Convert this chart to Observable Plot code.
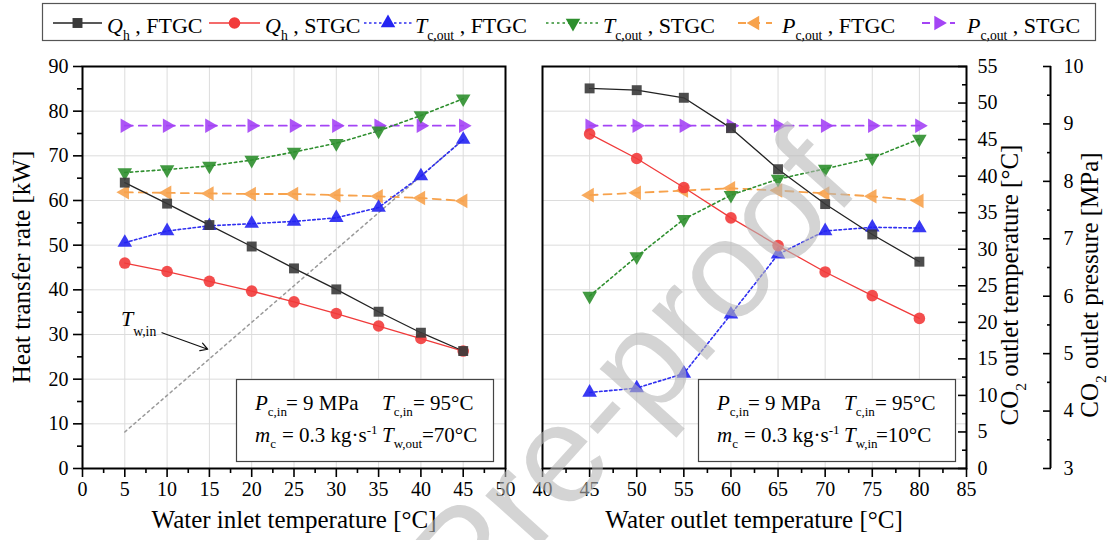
<!DOCTYPE html>
<html><head><meta charset="utf-8">
<script src="https://cdn.jsdelivr.net/npm/d3@7"></script>
<script src="https://cdn.jsdelivr.net/npm/@observablehq/plot@0.6"></script>
<style>
html,body{margin:0;padding:0;background:#fff;}
#chart{position:relative;width:1109px;height:540px;overflow:hidden;font-family:'Liberation Serif','DejaVu Serif',serif;}
#chart svg{position:absolute;top:0;}
#chart svg text{font-family:'Liberation Serif','DejaVu Serif',serif;}
#chart svg text.wm{font-family:'Liberation Sans','DejaVu Sans',sans-serif;}
</style></head><body><div id="chart"></div>
<script>
// ---------------- data ----------------
// Left panel: water inlet temperature varied
const xInlet = [5, 10, 15, 20, 25, 30, 35, 40, 45];
const qhFtgcInlet = [64.0, 59.3, 54.5, 49.7, 44.8, 40.1, 35.1, 30.4, 26.3];   // kW
const qhStgcInlet = [46.0, 44.1, 41.9, 39.7, 37.3, 34.7, 31.9, 29.1, 26.3];   // kW
const tcFtgcInlet = [30.9, 32.5, 33.2, 33.5, 33.8, 34.3, 35.7, 40.0, 45.0];   // °C
const tcStgcInlet = [40.5, 40.9, 41.4, 42.2, 43.3, 44.5, 46.2, 48.3, 50.6];   // °C
const pcFtgcInlet = [7.81, 7.80, 7.79, 7.78, 7.78, 7.76, 7.74, 7.71, 7.66];   // MPa
const pcStgcInlet = [8.97, 8.97, 8.97, 8.97, 8.97, 8.97, 8.97, 8.97, 8.97];   // MPa
const twInlet = [5, 10, 15, 20, 25, 30, 35, 40, 45];                          // °C (T_w,in)

// Right panel: water outlet temperature varied
const xOutlet = [45, 50, 55, 60, 65, 70, 75, 80];
const qhFtgcOutlet = [85.1, 84.7, 83.0, 76.2, 67.0, 59.2, 52.4, 46.3];
const qhStgcOutlet = [74.9, 69.4, 62.9, 56.1, 49.9, 44.0, 38.7, 33.6];
const tcFtgcOutlet = [10.4, 11.0, 13.0, 21.1, 29.3, 32.5, 33.0, 32.9];
const tcStgcOutlet = [23.6, 29.0, 34.1, 37.4, 39.6, 41.0, 42.5, 45.1];
const pcFtgcOutlet = [7.76, 7.80, 7.84, 7.88, 7.84, 7.79, 7.74, 7.66];
const pcStgcOutlet = [8.97, 8.97, 8.97, 8.97, 8.97, 8.97, 8.97, 8.97];

// ticks
const xTicksInlet = [0, 5, 10, 15, 20, 25, 30, 35, 40, 45, 50];
const xMinorInlet = [2.5, 7.5, 12.5, 17.5, 22.5, 27.5, 32.5, 37.5, 42.5, 47.5];
const xTicksOutlet = [40, 45, 50, 55, 60, 65, 70, 75, 80, 85];
const xMinorOutlet = [42.5, 47.5, 52.5, 57.5, 62.5, 67.5, 72.5, 77.5, 82.5];
const qTicks = [0, 10, 20, 30, 40, 50, 60, 70, 80, 90];
const qMinor = [5, 15, 25, 35, 45, 55, 65, 75, 85];
const tTicks = [0, 5, 10, 15, 20, 25, 30, 35, 40, 45, 50, 55];
const tMinor = [2.5, 7.5, 12.5, 17.5, 22.5, 27.5, 32.5, 37.5, 42.5, 47.5, 52.5];
const pTicks = [3, 4, 5, 6, 7, 8, 9, 10];
const pMinor = [3.5, 4.5, 5.5, 6.5, 7.5, 8.5, 9.5];
const gridXInlet = [5, 10, 15, 20, 25, 30, 35, 40, 45];
const gridXOutlet = [45, 50, 55, 60, 65, 70, 75, 80];
const gridYq = [10, 20, 30, 40, 50, 60, 70, 80];

// annotation arrow (x in °C, y in kW)
const twArrow = [{x1: 9.4, y1: 30.4, x2: 14.8, y2: 26.7}];

// ---------------- scales shared by all y axes ----------------
const qDomain = [0, 90], tDomain = [0, 55], pDomain = [3, 10];
const fromQ = v => v;
const fromT = t => (t - tDomain[0]) / (tDomain[1] - tDomain[0]) * qDomain[1];
const fromP = p => (p - pDomain[0]) / (pDomain[1] - pDomain[0]) * qDomain[1];
const toT = v => v / qDomain[1] * (tDomain[1] - tDomain[0]) + tDomain[0];
const toP = v => v / qDomain[1] * (pDomain[1] - pDomain[0]) + pDomain[0];

const styles = {
  qF: {stroke: "#222222", fill: "#3a3a3a", symbol: "square", rotate: 0, r: 5.6, dash: null, sw: 1.3},
  qS: {stroke: "#f03a3a", fill: "#f23b3b", symbol: "circle", rotate: 0, r: 5.8, dash: null, sw: 1.3},
  tF: {stroke: "#2f2ff0", fill: "#2424f2", symbol: "triangle", rotate: 0, r: 5.4, dash: "2.5,2.5", sw: 1.6},
  tS: {stroke: "#2f8f2f", fill: "#2e8f2e", symbol: "triangle", rotate: 180, r: 5.4, dash: "2.5,3", sw: 1.6},
  pF: {stroke: "#f7a24c", fill: "#f7a24c", symbol: "triangle", rotate: -90, r: 5.4, dash: "8,6", sw: 1.8},
  pS: {stroke: "#a444f5", fill: "#a444f5", symbol: "triangle", rotate: 90, r: 5.4, dash: "8,6", sw: 1.8}
};

const inletSeries = [
  {key: "pS", values: pcStgcInlet, conv: fromP},
  {key: "pF", values: pcFtgcInlet, conv: fromP},
  {key: "tS", values: tcStgcInlet, conv: fromT},
  {key: "tF", values: tcFtgcInlet, conv: fromT},
  {key: "qS", values: qhStgcInlet, conv: fromQ},
  {key: "qF", values: qhFtgcInlet, conv: fromQ}
];
const outletSeries = [
  {key: "pS", values: pcStgcOutlet, conv: fromP},
  {key: "pF", values: pcFtgcOutlet, conv: fromP},
  {key: "tS", values: tcStgcOutlet, conv: fromT},
  {key: "tF", values: tcFtgcOutlet, conv: fromT},
  {key: "qS", values: qhStgcOutlet, conv: fromQ},
  {key: "qF", values: qhFtgcOutlet, conv: fromQ}
];

function seriesMarks(xs, list) {
  const lines = [], dots = [];
  for (const s of list) {
    const st = styles[s.key];
    const rows = xs.map((x, i) => ({x, y: s.conv(s.values[i])}));
    lines.push(Plot.line(rows, {x: "x", y: "y", stroke: st.stroke, strokeWidth: st.sw, strokeDasharray: st.dash}));
    dots.push(Plot.dot(rows, {x: "x", y: "y", symbol: st.symbol, rotate: st.rotate, r: st.r, fill: st.fill, fillOpacity: 0.9, stroke: "none"}));
  }
  return [...lines, ...dots];
}

const SERIF = "'Liberation Serif', 'DejaVu Serif', serif";
const gridStyle = {stroke: "#dcdcdc", strokeOpacity: 1, strokeWidth: 1};
const plotStyle = {fontFamily: SERIF, fontSize: "20px", color: "#000", background: "none", overflow: "visible"};
const H = 540, mTop = 66, mBottom = 72;

// ---------------- left panel ----------------
const left = Plot.plot({
  width: 530, height: H,
  marginLeft: 82, marginRight: 25, marginTop: mTop, marginBottom: mBottom,
  x: {domain: [0, 50]},
  y: {domain: qDomain},
  style: plotStyle,
  marks: [
    Plot.gridX(gridXInlet, gridStyle),
    Plot.gridY(gridYq, gridStyle),
    Plot.line(xInlet.map((x, i) => ({x, y: fromT(twInlet[i])})), {x: "x", y: "y", stroke: "#9a9a9a", strokeWidth: 1.5, strokeDasharray: "2.5,3.5"}),
    ...seriesMarks(xInlet, inletSeries),
    Plot.arrow(twArrow, {x1: "x1", y1: "y1", x2: "x2", y2: "y2", stroke: "#111", strokeWidth: 1.2, headLength: 10}),
    Plot.axisX(xTicksInlet, {tickSize: 9, tickPadding: 4, strokeWidth: 1.6, label: null}),
    Plot.axisX(xMinorInlet, {tickSize: 5, tickFormat: () => "", strokeWidth: 1.6, label: null}),
    Plot.axisY(qTicks, {tickSize: 9, tickPadding: 5, strokeWidth: 1.6, label: null}),
    Plot.axisY(qMinor, {tickSize: 5, tickFormat: () => "", strokeWidth: 1.6, label: null}),
    Plot.frame({stroke: "#000", strokeWidth: 2})
  ]
});
left.style.left = "0px";

// ---------------- right panel ----------------
const right = Plot.plot({
  width: 579, height: H,
  marginLeft: 12, marginRight: 143, marginTop: mTop, marginBottom: mBottom,
  x: {domain: [40, 85]},
  y: {domain: qDomain},
  style: plotStyle,
  marks: [
    Plot.gridX(gridXOutlet, gridStyle),
    Plot.gridY(gridYq, gridStyle),
    ...seriesMarks(xOutlet, outletSeries),
    Plot.axisX(xTicksOutlet, {tickSize: 9, tickPadding: 4, strokeWidth: 1.6, label: null}),
    Plot.axisX(xMinorOutlet, {tickSize: 5, tickFormat: () => "", strokeWidth: 1.6, label: null}),
    Plot.axisY(tTicks.map(fromT), {anchor: "right", tickSize: -9, tickPadding: 20, strokeWidth: 1.6, label: null, tickFormat: d => String(Math.round(toT(d)))}),
    Plot.axisY(tMinor.map(fromT), {anchor: "right", tickSize: -5, tickFormat: () => "", strokeWidth: 1.6, label: null}),
    Plot.axisY(pTicks.map(fromP), {anchor: "right", dx: 84, tickSize: -8, tickPadding: 21, strokeWidth: 1.6, label: null, tickFormat: d => String(Math.round(toP(d)))}),
    Plot.axisY(pMinor.map(fromP), {anchor: "right", dx: 84, tickSize: -4, tickFormat: () => "", strokeWidth: 1.6, label: null}),
    Plot.ruleX([85], {dx: 84, stroke: "#000", strokeWidth: 2}),
    Plot.frame({stroke: "#000", strokeWidth: 2})
  ]
});
right.style.left = "530px";

const chart = document.getElementById("chart");
chart.appendChild(left);
chart.appendChild(right);

// ---------------- overlay: legend, labels, annotation boxes ----------------
const ov = d3.create("svg").attr("width", 1109).attr("height", 540)
  .style("left", "0px").style("pointer-events", "none")
  .style("font-family", SERIF);

function rich(parent, parts, size, attrs, subShift) {
  const t = parent.append("text").attr("font-size", size).attr("fill", "#000");
  for (const [k, v] of Object.entries(attrs)) t.attr(k, v);
  let shift = 0;
  const sub = subShift ?? size * 0.3;
  for (const p of parts) {
    const ts = t.append("tspan").text(p.t);
    const target = p.sub ? sub : p.sup ? -size * 0.38 : 0;
    if (target !== shift) { ts.attr("dy", target - shift); shift = target; }
    if (p.sub || p.sup) ts.attr("font-size", size * 0.62);
    if (p.i) ts.attr("font-style", "italic");
    if (p.x != null) ts.attr("x", p.x);
  }
  return t;
}

// legend
const legendItems = [
  {key: "qF", parts: [{t: "Q", i: 1}, {t: "h", sub: 1}, {t: " , FTGC"}]},
  {key: "qS", parts: [{t: "Q", i: 1}, {t: "h", sub: 1}, {t: " , STGC"}]},
  {key: "tF", parts: [{t: "T", i: 1}, {t: "c,out", sub: 1}, {t: " , FTGC"}]},
  {key: "tS", parts: [{t: "T", i: 1}, {t: "c,out", sub: 1}, {t: " , STGC"}]},
  {key: "pF", parts: [{t: "P", i: 1}, {t: "c,out", sub: 1}, {t: " , FTGC"}]},
  {key: "pS", parts: [{t: "P", i: 1}, {t: "c,out", sub: 1}, {t: " , STGC"}]}
];
const legendPos = [[53, 102, 107], [209, 260, 265], [364, 412, 415], [546, 600, 603], [738, 772, 782], [922, 955, 967]];
ov.append("rect").attr("x", 42.5).attr("y", 3.5).attr("width", 1053).attr("height", 37)
  .attr("fill", "#fff").attr("stroke", "#555").attr("stroke-width", 1.2);
legendItems.forEach((it, i) => {
  const st = styles[it.key];
  const [a, b, tx] = legendPos[i];
  ov.append("line").attr("x1", a).attr("x2", b).attr("y1", 23).attr("y2", 23)
    .attr("stroke", st.stroke).attr("stroke-width", st.sw).attr("stroke-dasharray", st.dash);
  const sym = {square: d3.symbolSquare, circle: d3.symbolCircle, triangle: d3.symbolTriangle}[st.symbol];
  ov.append("path").attr("d", d3.symbol(sym, st.r * st.r * Math.PI)())
    .attr("transform", `translate(${(a + b) / 2},23) rotate(${st.rotate})`).attr("fill", st.fill);
  rich(ov, it.parts, 22, {x: tx, y: 33});
});

// axis titles
rich(ov, [{t: "Heat transfer rate [kW]"}], 25, {transform: "translate(30,267) rotate(-90)", "text-anchor": "middle"});
rich(ov, [{t: "Water inlet temperature [°C]"}], 25, {x: 294, y: 528, "text-anchor": "middle"});
rich(ov, [{t: "Water outlet temperature [°C]"}], 25, {x: 754, y: 528, "text-anchor": "middle"});
rich(ov, [{t: "CO"}, {t: "2", sub: 1}, {t: " outlet temperature [°C]"}], 25, {transform: "translate(1018,285) rotate(-90)", "text-anchor": "middle"});
rich(ov, [{t: "CO"}, {t: "2", sub: 1}, {t: " outlet pressure [MPa]"}], 25, {transform: "translate(1098,285) rotate(-90)", "text-anchor": "middle"});

// T_w,in label
rich(ov, [{t: "T", i: 1}, {t: "w,in", sub: 1}], 22, {x: 121, y: 326}, 10);

// annotation boxes
const boxes = [
  {x: 236, lines: [
    [[{t: "P", i: 1}, {t: "c,in", sub: 1}, {t: "= 9 MPa", x: 286}], [{t: "T", i: 1}, {t: "c,in", sub: 1}, {t: "= 95°C", x: 413}]],
    [[{t: "m", i: 1}, {t: "c", sub: 1}, {t: "= 0.3 kg·s", x: 282}, {t: "-1", sup: 1}], [{t: "T", i: 1}, {t: "w,out", sub: 1}, {t: "=70°C", x: 422}]]
  ]},
  {x: 698, lines: [
    [[{t: "P", i: 1}, {t: "c,in", sub: 1}, {t: "= 9 MPa", x: 748}], [{t: "T", i: 1}, {t: "c,in", sub: 1}, {t: "= 95°C", x: 875}]],
    [[{t: "m", i: 1}, {t: "c", sub: 1}, {t: "= 0.3 kg·s", x: 744}, {t: "-1", sup: 1}], [{t: "T", i: 1}, {t: "w,in", sub: 1}, {t: "=10°C", x: 876}]]
  ]}
];
for (const b of boxes) {
  ov.append("rect").attr("x", b.x + 0.5).attr("y", 379.5).attr("width", 257).attr("height", 82)
    .attr("fill", "#fff").attr("stroke", "#444").attr("stroke-width", 1.2);
  const col1 = b.x + 19, col2 = b.x + 146;
  b.lines.forEach((ln, j) => {
    const y = 410 + j * 32;
    rich(ov, ln[0], 21, {x: col1, y});
    rich(ov, ln[1], 21, {x: col2, y});
  });
}

// watermark
ov.append("text").attr("class", "wm").text("Journal Pre-proof")
  .attr("font-size", 140)
  .attr("fill", "#b8b8b8").attr("fill-opacity", 0.6).attr("text-anchor", "end")
  .attr("transform", "translate(862,188) rotate(-48)");

chart.appendChild(ov.node());
</script>
</body></html>
